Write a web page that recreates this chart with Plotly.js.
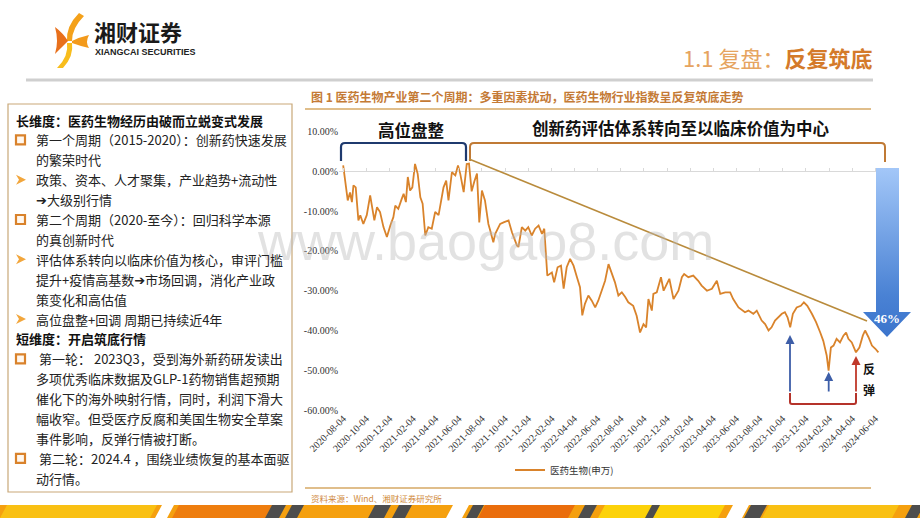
<!DOCTYPE html>
<html><head><meta charset="utf-8">
<script src="https://cdn.plot.ly/plotly-3.0.1.min.js"></script>
<style>html,body{margin:0;padding:0;background:#fff}#chart{width:920px;height:518px}</style>
</head><body><div id="chart"></div>
<script>
// ---------------- data ----------------
const seriesName = '医药生物(申万)';
const dates = [
'2020-08-04','2020-08-09','2020-08-16','2020-08-22','2020-08-27','2020-08-31','2020-09-06','2020-09-13','2020-09-18','2020-09-26',
'2020-10-05','2020-10-14','2020-10-18','2020-10-25','2020-11-01','2020-11-09','2020-11-18','2020-11-27','2020-12-06','2020-12-14',
'2020-12-19','2020-12-27','2021-01-05','2021-01-10','2021-01-16','2021-01-21','2021-01-27','2021-02-02','2021-02-09','2021-02-16',
'2021-02-23','2021-03-01','2021-03-08','2021-03-16','2021-03-25','2021-04-03','2021-04-12','2021-04-19','2021-04-25','2021-05-02',
'2021-05-08','2021-05-17','2021-05-26','2021-06-02','2021-06-08','2021-06-17','2021-06-25','2021-07-01','2021-07-08','2021-07-15',
'2021-07-22','2021-07-28','2021-08-04','2021-08-12','2021-08-21','2021-08-26','2021-09-03','2021-09-08','2021-09-21','2021-09-30',
'2021-10-13','2021-10-22','2021-11-04','2021-11-08','2021-11-17','2021-11-26','2021-12-04','2021-12-13','2021-12-22','2021-12-31',
'2022-01-09','2022-01-15','2022-01-23','2022-02-04','2022-02-10','2022-02-19','2022-02-28','2022-03-07','2022-03-15','2022-03-24',
'2022-04-02','2022-04-11','2022-04-19','2022-04-25','2022-05-02','2022-05-11','2022-05-20','2022-05-29','2022-06-06','2022-06-15',
'2022-06-24','2022-07-03','2022-07-12','2022-07-20','2022-07-29','2022-08-07','2022-08-16','2022-08-24','2022-09-06','2022-09-15',
'2022-09-24','2022-10-03','2022-10-10','2022-10-16','2022-10-25','2022-10-29','2022-11-07','2022-11-18','2022-11-25','2022-12-03',
'2022-12-10','2022-12-21','2023-01-03','2023-01-12','2023-01-18','2023-01-29','2023-02-11','2023-02-24','2023-03-05','2023-03-19',
'2023-04-01','2023-04-14','2023-04-23','2023-05-06','2023-05-19','2023-05-27','2023-06-10','2023-06-27','2023-07-06','2023-07-19',
'2023-07-28','2023-08-10','2023-08-19','2023-08-28','2023-09-05','2023-09-14','2023-09-23','2023-10-02','2023-10-10','2023-10-17',
'2023-10-24','2023-10-31','2023-11-10','2023-11-21','2023-11-29','2023-12-08','2023-12-20','2023-12-31','2024-01-11','2024-01-19',
'2024-01-28','2024-02-02','2024-02-08','2024-02-15','2024-02-23','2024-03-03','2024-03-12','2024-03-19','2024-03-25','2024-04-03',
'2024-04-14','2024-04-23','2024-05-02','2024-05-08','2024-05-17','2024-05-26','2024-06-04','2024-06-12'
];
const values = [
1.5,-2.3,-7.3,-5.3,-7.7,-3.5,-4.0,-12.3,-11.0,-13.2,
-11.0,-6.0,-8.0,-12.3,-9.0,-10.2,-14.0,-16.5,-13.6,-11.5,
-8.6,-9.4,-6.9,-5.6,-7.7,-1.4,-4.8,-4.0,1.9,-0.6,
-6.5,-8.1,-16.1,-14.0,-14.4,-10.2,-11.0,-7.3,-4.0,-2.3,
-7.3,-0.2,-1.0,1.5,-0.6,-5.2,1.9,2.0,-5.0,-2.5,
-0.5,-12.8,-4.8,-7.3,-13.2,-14.9,-17.8,-15.7,-13.2,-12.8,
-12.3,-15.3,-18.6,-19.0,-14.0,-14.9,-14.0,-16.1,-14.4,-13.6,
-15.7,-14.4,-26.2,-25.4,-27.9,-24.1,-23.7,-29.5,-24.1,-22.0,
-23.7,-26.6,-29.1,-36.2,-33.3,-31.2,-32.5,-34.2,-32.5,-30.0,
-27.5,-23.3,-25.8,-27.9,-31.2,-30.4,-31.6,-32.9,-33.8,-36.3,
-40.5,-38.4,-39.2,-32.1,-35.0,-30.8,-30.4,-26.6,-30.0,-28.3,
-27.0,-32.1,-30.0,-26.6,-25.8,-26.6,-26.2,-27.5,-28.7,-30.0,
-29.5,-27.5,-30.8,-30.4,-30.4,-32.1,-34.2,-35.4,-35.0,-35.8,
-35.0,-37.5,-38.4,-40.0,-39.2,-37.5,-36.7,-35.8,-35.4,-36.7,
-39.2,-35.8,-34.2,-33.8,-32.9,-33.8,-35.8,-37.9,-40.5,-42.6,
-46.3,-50.1,-44.3,-43.8,-42.1,-43.0,-41.3,-40.5,-42.1,-43.0,
-45.5,-44.3,-41.3,-40.0,-41.7,-43.8,-44.6,-45.5
];
const xTickVals = ['2020-08-04','2020-10-04','2020-12-04','2021-02-04','2021-04-04','2021-06-04','2021-08-04','2021-10-04',
'2021-12-04','2022-02-04','2022-04-04','2022-06-04','2022-08-04','2022-10-04','2022-12-04','2023-02-04','2023-04-04',
'2023-06-04','2023-08-04','2023-10-04','2023-12-04','2024-02-04','2024-04-04','2024-06-04'];
const xTickText = xTickVals.slice();
const yTickVals = [10,0,-10,-20,-30,-40,-50,-60];
const yTickText = yTickVals.map(v => v.toFixed(2) + '%');
const dropLabel = '46%';
const phase1Label = '高位盘整';
const phase2Label = '创新药评估体系转向至以临床价值为中心';
const reboundLabel = ['反', '弹'];
const pageTitleA = '1.1 复盘：';
const pageTitleB = '反复筑底';
const figCaption = '图 1 医药生物产业第二个周期：多重因素扰动，医药生物行业指数呈反复筑底走势';
const sourceText = '资料来源：Wind、湘财证券研究所';
const panelTexts = [
 '长维度：医药生物经历由破而立蜕变式发展',
 '第一个周期（2015-2020）：创新药快速发展',
 '的繁荣时代',
 '政策、资本、人才聚集，产业趋势+流动性',
 '➔大级别行情',
 '第二个周期（2020-至今）：回归科学本源',
 '的真创新时代',
 '评估体系转向以临床价值为核心，审评门槛',
 '提升+疫情高基数➔市场回调，消化产业政',
 '策变化和高估值',
 '高位盘整+回调 周期已持续近4年',
 '短维度：开启筑底行情',
 '第一轮： 2023Q3，受到海外新药研发读出',
 '多项优秀临床数据及GLP-1药物销售超预期',
 '催化下的海外映射行情，同时，利润下滑大',
 '幅收窄。但受医疗反腐和美国生物安全草案',
 '事件影响，反弹行情被打断。',
 '第二轮：2024.4 ，围绕业绩恢复的基本面驱',
 '动行情。'
];
const panelKinds = ['h','s','c','a','c','s','c','a','c','c','a','h','s','c','c','c','c','s','c'];

// ---------------- layout helpers ----------------
const W = 920, H = 518;
const CJK = 'Noto Sans CJK SC, DejaVu Sans, sans-serif';
const SERIF = 'Liberation Serif, Times New Roman, serif';
const shapes = [];
const annotations = [];
function pshape(o){ shapes.push(Object.assign({xref:'x3', yref:'y3', layer:'above'}, o)); }
function ptext(text, x, y, o){
  annotations.push(Object.assign({xref:'x3', yref:'y3', x:x, y:y, text:text, showarrow:false,
    xanchor:'left', yanchor:'middle', font:{family:CJK, size:13, color:'#222'}}, o||{}));
}
function parrow(x, yHead, yTail, color){
  annotations.push({xref:'x3', yref:'y3', axref:'x3', ayref:'y3', x:x, y:yHead, ax:x, ay:yTail,
    text:'', showarrow:true, arrowhead:2, arrowsize:1, arrowwidth:1.8, arrowcolor:color});
}

// watermark (drawn first, underneath the other texts)
ptext('www.baogao8.com', 485, 241, {xanchor:'center', font:{family:'Liberation Sans, Arial, sans-serif', size:54, color:'rgba(185,185,185,0.42)'}});

// header: logo
pshape({type:'path', path:'M 79 13 Q 66 26 67 41 L 72 41 Q 72 28 84 16 Z', fillcolor:'#f4a11a', line:{width:0}});
pshape({type:'path', path:'M 55 27 Q 63 33 68 41 Q 62 47 55 54 Q 59 41 55 27 Z', fillcolor:'#e8701c', line:{width:0}});
pshape({type:'path', path:'M 67 43 Q 69 56 57 68 L 63 68 Q 74 56 72 43 Z', fillcolor:'#f8bd1d', line:{width:0}});
pshape({type:'path', path:'M 72 41 Q 80 37 89 35 Q 85 42 89 48 Q 80 46 72 43 Z', fillcolor:'#f39a1b', line:{width:0}});
ptext('<b>湘财证券</b>', 92, 31, {font:{family:CJK, size:22, color:'#1a1a1a'}});
ptext('<b>XIANGCAI SECURITIES</b>', 93, 52, {font:{family:'Liberation Sans Narrow, Liberation Sans, sans-serif', size:9, color:'#222'}});
ptext('<span style="color:#e6a460">' + pageTitleA + '</span><b>' + pageTitleB + '</b>', 874, 57,
  {xanchor:'right', font:{family:CJK, size:22, color:'#d47a2a'}});
pshape({type:'line', x0:26, x1:873, y0:80, y1:80, line:{color:'#cfcfcf', width:3}});
ptext('<b>' + figCaption + '</b>', 309, 96, {font:{family:CJK, size:12, color:'#c47a35'}});
pshape({type:'line', x0:305, x1:871, y0:109, y1:109, line:{color:'#d6a964', width:1.5}});
pshape({type:'line', x0:305, x1:871, y0:488, y1:488, line:{color:'#d6a964', width:1.5}});
ptext(sourceText, 309, 498, {font:{family:CJK, size:8.5, color:'#d08a40'}});

// left panel
pshape({type:'rect', x0:8, x1:292, y0:104, y1:492, line:{color:'#c9a878', width:1.2}, fillcolor:'#ffffff', layer:'below'});
panelTexts.forEach((t, i) => {
  const y = 120 + i * 19.9;
  const k = panelKinds[i];
  if (k === 'h') { ptext('<b>' + t + '</b>', 14, y, {font:{family:CJK, size:13, color:'#111'}}); return; }
  if (k === 's') {
    pshape({type:'rect', x0:16, x1:25, y0:y-4.5, y1:y+4.5, line:{color:'#d9822b', width:2.2}, fillcolor:'#fff7ee'});
  }
  if (k === 'a') {
    pshape({type:'path', path:'M 16 '+(y-5)+' L 26 '+y+' L 16 '+(y+5)+' L 19 '+y+' Z', fillcolor:'#f2a63c', line:{width:0}});
  }
  ptext(t, k === 's' && i > 10 ? 37 : 34, y, {font:{family:CJK, size:13, color:'#222'}});
});

// chart decorations
pshape({type:'path', path:'M 341 161 L 341 147 Q 341 143 345 143 L 462 143 Q 466 143 466 147 L 466 161',
  line:{color:'#1f3a6e', width:2.2}});
pshape({type:'path', path:'M 470 161 L 470 147 Q 470 143 474 143 L 881 143 Q 885 143 885 147 L 885 162',
  line:{color:'#c07a35', width:2}});
pshape({type:'line', x0:469, y0:159, x1:867, y1:321, line:{color:'#b98b3c', width:1.6}});
ptext('<b>' + phase1Label + '</b>', 411, 130, {xanchor:'center', font:{family:CJK, size:16.5, color:'#111'}});
ptext('<b>' + phase2Label + '</b>', 681, 128, {xanchor:'center', font:{family:CJK, size:16.5, color:'#111'}});
pshape({type:'path', path:'M 790 393 L 790 402 Q 790 404 792 404 L 854 404 Q 856 404 856 402 L 856 393',
  line:{color:'#b5332a', width:2}});
parrow(790, 335, 393, '#3d5ea8');
parrow(828.7, 372, 393, '#3d5ea8');
parrow(856, 356, 393, '#c0392b');
ptext('<b>' + reboundLabel[0] + '</b>', 861, 368, {yanchor:'middle', font:{family:CJK, size:12, color:'#111'}});
ptext('<b>' + reboundLabel[1] + '</b>', 861, 389, {yanchor:'middle', font:{family:CJK, size:12, color:'#111'}});
ptext('<b>' + dropLabel + '</b>', 887, 318, {xanchor:'center', font:{family:SERIF, size:13, color:'#ffffff'}});

// bottom band
pshape({type:'rect', x0:0, x1:920, y0:505, y1:518, fillcolor:'#f5a00f', line:{width:0}});
[[0,150,'#f9c013'],[155,12,'#ffffff'],[172,93,'#ee7d0e'],[265,14,'#4d4d4d'],[285,12,'#4d4d4d'],[368,16,'#4d4d4d'],
 [392,13,'#4d4d4d'],[446,16,'#ffffff'],[466,11,'#4d4d4d'],[478,90,'#ea6d0c'],[578,12,'#4d4d4d'],[598,120,'#fcd20a'],
 [645,8,'#4d4d4d'],[726,16,'#ffffff'],[744,16,'#4d4d4d'],[762,130,'#f9c013'],[905,12,'#4d4d4d']].forEach(s => {
  pshape({type:'path', path:'M '+(s[0]+7)+' 505 L '+(s[0]+7+s[1])+' 505 L '+(s[0]+s[1])+' 518 L '+s[0]+' 518 Z',
    fillcolor:s[2], line:{width:0}});
});

// ---------------- traces ----------------
const mainTrace = {type:'scatter', mode:'lines', name:seriesName, x:dates, y:values, xaxis:'x', yaxis:'y',
  line:{color:'#d9832b', width:1.8}, hoverinfo:'skip'};
const tickTrace = {type:'scatter', mode:'lines', x:[xTickVals[0]], y:[null], xaxis:'x2', yaxis:'y', showlegend:false, hoverinfo:'skip'};
const arrowTrace = {type:'scatter', mode:'lines', xaxis:'x3', yaxis:'y3', showlegend:false, hoverinfo:'skip',
  x:[876,899,899,911,887,863,876,876], y:[168,168,312,312,337,312,312,168],
  line:{width:0, color:'rgba(0,0,0,0)'}, fill:'toself',
  fillgradient:{type:'vertical', start:168, stop:337, colorscale:[[0,'#a3c7f8'],[0.75,'#4a82d4'],[1,'#3b74cc']]}};

const layout = {
  width:W, height:H, margin:{l:0, r:0, t:0, b:0},
  paper_bgcolor:'#ffffff', plot_bgcolor:'rgba(0,0,0,0)',
  showlegend:true,
  legend:{x:510/W, y:1-470/H, xanchor:'left', yanchor:'middle', orientation:'h', itemwidth:30,
    font:{family:CJK, size:9.5, color:'#333'}, bgcolor:'rgba(0,0,0,0)'},
  xaxis:{type:'date', domain:[339/W, 886/W], range:['2020-07-24','2024-07-02'], anchor:'y',
    tickmode:'array', tickvals:xTickVals, ticktext:xTickText, tickangle:-45,
    tickfont:{family:SERIF, size:10, color:'#333'}, showgrid:false, showline:false, zeroline:false, ticks:''},
  xaxis2:{type:'date', overlaying:'x', anchor:'free', position:1-171.5/H, range:['2020-07-24','2024-07-02'],
    tickmode:'array', tickvals:xTickVals, showticklabels:false, ticks:'inside', ticklen:4, tickcolor:'#d9d9d9',
    showgrid:false, showline:false, zeroline:false},
  yaxis:{domain:[1-410/H, 1-131.7/H], range:[-60,10], anchor:'x', tickmode:'array', tickvals:yTickVals, ticktext:yTickText,
    tickfont:{family:SERIF, size:10, color:'#333'}, showgrid:false, showline:false, ticks:'',
    zeroline:true, zerolinecolor:'#d9d9d9', zerolinewidth:1},
  xaxis3:{domain:[0,1], range:[0,W], anchor:'y3', visible:false, fixedrange:true},
  yaxis3:{domain:[0,1], range:[H,0], anchor:'x3', visible:false, fixedrange:true},
  shapes:shapes, annotations:annotations
};
Plotly.newPlot('chart', [mainTrace, tickTrace, arrowTrace], layout, {staticPlot:true, displayModeBar:false});
</script></body></html>
